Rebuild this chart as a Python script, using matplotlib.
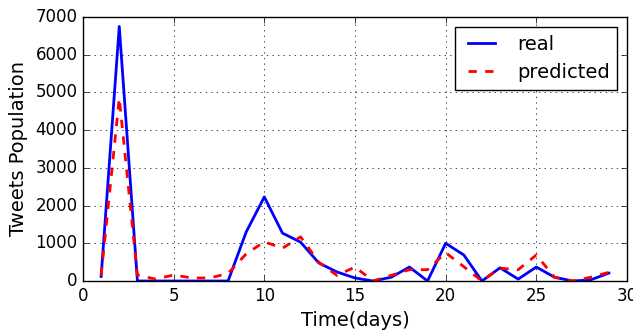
import numpy as np
import matplotlib
matplotlib.use('Agg')
import matplotlib.pyplot as plt

days = list(range(1, 30))
real = [120, 6750, 0, 0, 0, 0, 0, 0, 1300, 2230, 1270, 1030, 480, 240, 80, 0, 100,
        370, 0, 1000, 690, 0, 350, 50, 370, 100, 0, 30, 210]
predicted = [150, 4850, 160, 50, 160, 80, 80, 200, 720, 1040, 870, 1170, 500, 150, 370, 0,
             150, 300, 300, 750, 380, 0, 340, 300, 690, 100, 0, 100, 230]

plt.style.use('classic')
fig = plt.figure(figsize=(6.33, 3.32), dpi=100)
ax = fig.add_axes([83 / 633, 1 - 281 / 332, (627 - 83) / 633, (281 - 17) / 332])

ax.plot(days, real, 'b-', lw=2, label='real')
ax.plot(days, predicted, 'r--', lw=2, label='predicted')

ax.set_xlim(0, 30)
ax.set_ylim(0, 7000)
ax.set_xticks([0, 5, 10, 15, 20, 25, 30])
ax.set_yticks(range(0, 7001, 1000))
ax.tick_params(labelsize=12)
ax.grid(True)
ax.set_xlabel('Time(days)', fontsize=14)
ax.set_ylabel('Tweets Population', fontsize=14)
ax.legend(loc='upper right', fontsize=14)

fig.savefig('out.png', dpi=100)
